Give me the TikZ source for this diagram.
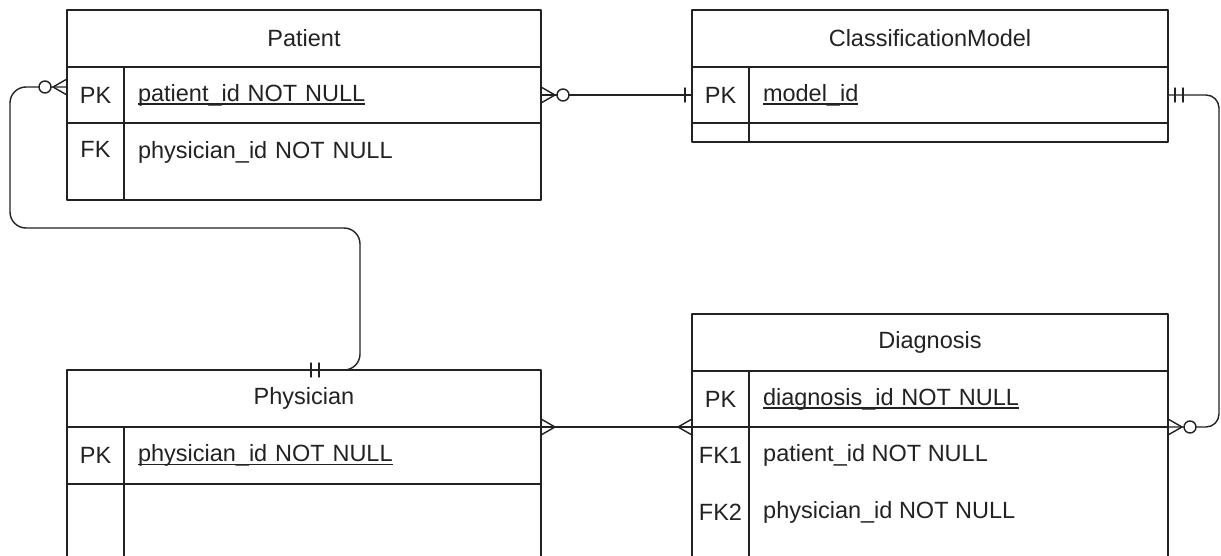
\documentclass[tikz,border=0pt]{standalone}
\usepackage{fontspec}
\setmainfont{Liberation Sans}
\usepackage{tikz}
\usetikzlibrary{positioning}
\definecolor{ink}{HTML}{222222}
\newcommand{\erfont}{\fontsize{23.5}{28}\selectfont}
\newsavebox{\ulbox}
\newcommand{\uln}[1]{\sbox\ulbox{#1}\rlap{\rule[-3.5pt]{\wd\ulbox}{1.2pt}}\usebox\ulbox}
\tikzset{
  every picture/.style={line join=round, line cap=round},
  cell/.style={draw=ink, line width=1.7pt, anchor=north west, inner sep=0pt, outer sep=0pt, text=ink, font=\erfont},
  tblhead/.style={cell, minimum height=57pt},
  keycell/.style={cell, minimum width=57pt},
  fieldcell/.style={cell, text width=#1, align=left, inner xsep=14pt},
  keytext/.style={text=ink, font=\erfont, inner sep=0pt},
  fieldtext/.style={text=ink, font=\erfont, inner sep=0pt, anchor=west},
  conn/.style={draw=ink, line width=1.4pt},
  crowmany/.pic={\draw[conn] (0,-8) -- (14,0) -- (0,8);},
  crowzero/.pic={\draw[conn] (0,-8) -- (14,0) -- (0,8);
    \draw[conn, fill=white] (22,0) circle[radius=6pt];},
  barone/.pic={\draw[conn] (7,-7) -- (7,7);},
  bartwo/.pic={\draw[conn] (7,-7) -- (7,7) (15,-7) -- (15,7);},
}

\begin{document}
\begin{tikzpicture}[x=1pt,y=-1pt]
\useasboundingbox (0,0) rectangle (1221,556);
\clip (0,0) rectangle (1221,556);
% Patient
\node[tblhead, minimum width=474pt] (patient) at (67,10) {Patient};
\node[keycell, minimum height=56pt] (patientpk) at (patient.south west) {PK};
\node[fieldcell=389pt, minimum height=56pt] (patientpkf) at (patientpk.north east) {\uln{patient\_id NOT NULL}};
\node[keycell, minimum height=77pt, text depth=24pt] (patientfk) at (patientpk.south west) {FK};
\node[fieldcell=389pt, minimum height=77pt, text depth=24pt] (patientfkf) at (patientfk.north east) {physician\_id NOT NULL};
% ClassificationModel
\node[tblhead, minimum width=476pt] (model) at (692,10) {ClassificationModel};
\node[keycell, minimum height=56pt] (modelpk) at (model.south west) {PK};
\node[fieldcell=391pt, minimum height=56pt] (modelpkf) at (modelpk.north east) {\uln{model\_id}};
\node[keycell, minimum height=19pt] (modelx) at (modelpk.south west) {};
\node[fieldcell=391pt, minimum height=19pt] (modelxf) at (modelx.north east) {};
% Diagnosis
\node[tblhead, minimum width=476pt] (diag) at (692,314) {Diagnosis};
\node[keycell, minimum height=56pt] (diagpk) at (diag.south west) {PK};
\node[fieldcell=391pt, minimum height=56pt] (diagpkf) at (diagpk.north east) {\uln{diagnosis\_id NOT NULL}};
\node[keycell, minimum height=160pt] (diagfk) at (diagpk.south west) {};
\node[fieldcell=391pt, minimum height=160pt] (diagfkf) at (diagfk.north east) {};
\node[keytext] (fkone) at ([yshift=-28.5pt]diagfk.north) {FK1};
\node[keytext] (fktwo) at ([yshift=-85.5pt]diagfk.north) {FK2};
\node[fieldtext] (fkonef) at ([xshift=14pt,yshift=-28.5pt]diagfkf.north west) {patient\_id NOT NULL};
\node[fieldtext] (fktwof) at ([xshift=14pt,yshift=-85.5pt]diagfkf.north west) {physician\_id NOT NULL};
% Physician
\node[tblhead, minimum width=474pt] (physician) at (67,370) {Physician};
\node[keycell, minimum height=57pt] (physpk) at (physician.south west) {PK};
\node[fieldcell=389pt, minimum height=57pt] (physpkf) at (physpk.north east) {\uln{physician\_id NOT NULL}};
\node[keycell, minimum height=120pt] (physx) at (physpk.south west) {};
\node[fieldcell=389pt, minimum height=120pt] (physxf) at (physx.north east) {};
% relations
\draw[conn] (patientpkf.east) -- (modelpk.west);
\draw[conn, rounded corners=16pt] ([yshift=8pt]patientpk.west) -| (10,228) -| (360,370) -- (physician.north);
\draw[conn, rounded corners=13pt] (modelpkf.east) -| ([xshift=51pt]diagpkf.south east) -- (diagpkf.south east);
\draw[conn] (physician.south east) -- (diagpk.south west);
\pic at (patientpkf.east) {crowzero};
\pic[rotate=180] at ([yshift=8pt]patientpk.west) {crowzero};
\pic[rotate=180] at (modelpk.west) {barone};
\pic at (modelpkf.east) {bartwo};
\pic at (diagpkf.south east) {crowzero};
\pic at (physician.north) {bartwo};
\pic at (physician.south east) {crowmany};
\pic[rotate=180] at (diagpk.south west) {crowmany};
\end{tikzpicture}
\end{document}
